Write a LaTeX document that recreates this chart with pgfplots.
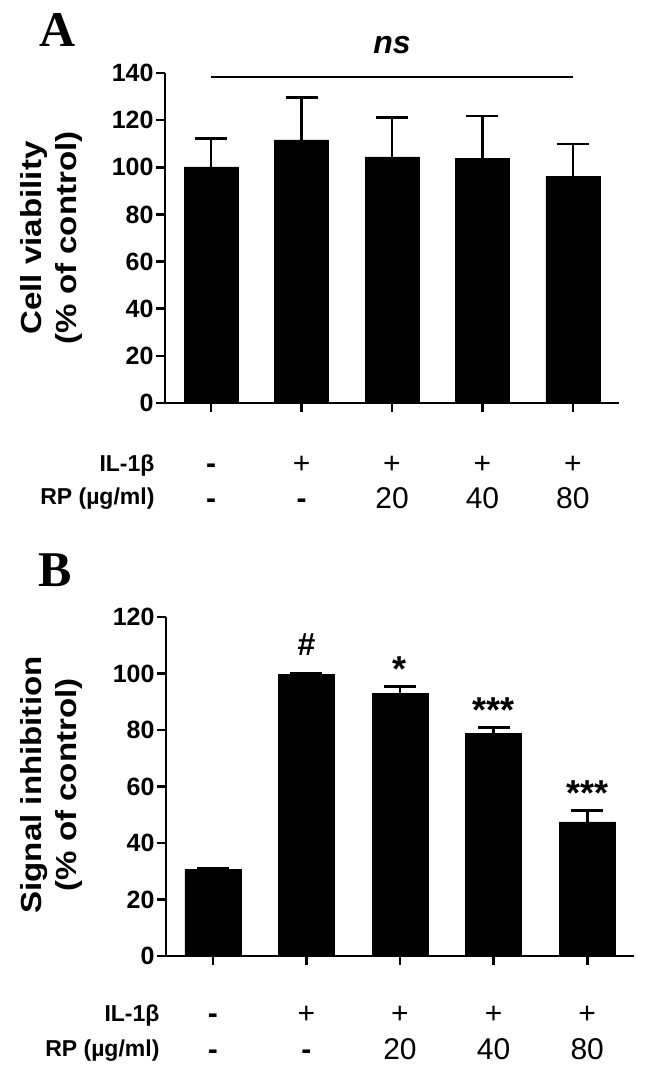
\documentclass[border=0pt]{standalone}
\usepackage{fontspec}
\setmainfont{Liberation Sans}
\newfontfamily\panelfont{Liberation Serif}
\usepackage{graphicx}
\usepackage{pgfplots}
\pgfplotsset{compat=1.18}

% cell viability (A) and signal inhibition (B): mean, upper error
\pgfplotstableread{
x y err
0 100.2 12.1
1 111.6 18.1
2 104.4 16.8
3 103.7 18.1
4 96.2 13.6
}\dataA
\pgfplotstableread{
x y err
0 30.6 0.5
1 99.8 0.4
2 92.9 2.4
3 78.7 2.2
4 47.5 3.9
}\dataB

\newcommand{\rowfont}{\fontsize{23}{26}\selectfont\bfseries}
\newcommand{\symfont}{\fontsize{30}{32}\selectfont}
\newcommand{\ylabfont}{\fontsize{29}{35}\selectfont\bfseries}
\newcommand{\starfont}{\fontsize{36}{36}\selectfont\bfseries}
\newcommand{\letterfont}{\fontsize{50}{52}\selectfont\panelfont\bfseries}

\pgfplotsset{
  panel/.style={
    scale only axis,
    ybar,
    axis lines*=left,
    axis line style={line width=2.6pt},
    tick align=outside,
    major tick length=9pt,
    tick style={line width=2.6pt, black},
    xtick={0,1,2,3,4},
    xticklabels={,,,,},
    ytick distance=20,
    ymin=0,
    /pgf/number format/assume math mode=true,
    yticklabel style={font=\fontsize{25}{28}\selectfont\bfseries, xshift=1pt},
    clip=false,
  },
  bars/.style={
    fill=black, draw=black,
    error bars/.cd, y dir=plus, y explicit,
    error bar style={line width=2.6pt, black},
    error mark options={rotate=90, line width=2.6pt, mark size=16pt, black},
  },
}

\begin{document}
\begin{tikzpicture}
\useasboundingbox (0pt,0pt) rectangle (646pt,1081pt);

% ---------------- panel A
\node[font=\letterfont, anchor=base] at (58pt,1034pt) {A};
\begin{axis}[panel,
  at={(165pt,678pt)}, anchor=south west,
  width=454pt, height=330pt,
  xmin=-0.51, xmax=4.51, ymax=140,
  bar width=54pt,
]
\addplot[bars] table[x=x, y=y, y error=err] {\dataA};
\draw[line width=1.4pt] (axis cs:0,138.3) -- (axis cs:4,138.3);
\node[font=\fontsize{32}{34}\selectfont\bfseries\itshape] at (axis cs:2,152) {ns};
% treatment rows
\node[font=\rowfont, anchor=base east] at (axis cs:-0.51,0) [yshift=-69pt, xshift=-7pt] {IL-1β};
\node[font=\rowfont, anchor=base east] at (axis cs:-0.51,0) [yshift=-102pt, xshift=-7pt] {RP (µg/ml)};
\node[font=\symfont\bfseries, anchor=base] at (axis cs:0,0) [yshift=-71pt] {-};
\node[font=\symfont, anchor=base] at (axis cs:1,0) [yshift=-71pt] {+};
\node[font=\symfont, anchor=base] at (axis cs:2,0) [yshift=-71pt] {+};
\node[font=\symfont, anchor=base] at (axis cs:3,0) [yshift=-71pt] {+};
\node[font=\symfont, anchor=base] at (axis cs:4,0) [yshift=-71pt] {+};
\node[font=\symfont\bfseries, anchor=base] at (axis cs:0,0) [yshift=-106pt] {-};
\node[font=\symfont\bfseries, anchor=base] at (axis cs:1,0) [yshift=-106pt] {-};
\node[font=\symfont, anchor=base] at (axis cs:2,0) [yshift=-106pt] {20};
\node[font=\symfont, anchor=base] at (axis cs:3,0) [yshift=-106pt] {40};
\node[font=\symfont, anchor=base] at (axis cs:4,0) [yshift=-106pt] {80};
\end{axis}
\node[font=\ylabfont, align=center, rotate=90] at (52pt,843pt)
  {\scalebox{1.14}[1]{Cell viability}\\\scalebox{1.14}[1]{(\% of control)}};

% ---------------- panel B
\node[font=\letterfont, anchor=base] at (55pt,494pt) {B};
\begin{axis}[panel,
  at={(166pt,125pt)}, anchor=south west,
  width=468pt, height=339pt,
  xmin=-0.5, xmax=4.5, ymax=120,
  bar width=56pt,
]
\addplot[bars] table[x=x, y=y, y error=err] {\dataB};
\node[font=\fontsize{32}{32}\selectfont\bfseries] at (axis cs:1,110.4) {\#};
\node[font=\starfont, anchor=base] at (axis cs:2,97.2) {*};
\node[font=\starfont, anchor=base] at (axis cs:3,82.6) {***};
\node[font=\starfont, anchor=base] at (axis cs:4,53.3) {***};
% treatment rows
\node[font=\rowfont, anchor=base east] at (axis cs:-0.5,0) [yshift=-65pt, xshift=-3pt] {IL-1β};
\node[font=\rowfont, anchor=base east] at (axis cs:-0.5,0) [yshift=-100pt, xshift=-3pt] {RP (µg/ml)};
\node[font=\symfont\bfseries, anchor=base] at (axis cs:0,0) [yshift=-67pt] {-};
\node[font=\symfont, anchor=base] at (axis cs:1,0) [yshift=-67pt] {+};
\node[font=\symfont, anchor=base] at (axis cs:2,0) [yshift=-67pt] {+};
\node[font=\symfont, anchor=base] at (axis cs:3,0) [yshift=-67pt] {+};
\node[font=\symfont, anchor=base] at (axis cs:4,0) [yshift=-67pt] {+};
\node[font=\symfont\bfseries, anchor=base] at (axis cs:0,0) [yshift=-103pt] {-};
\node[font=\symfont\bfseries, anchor=base] at (axis cs:1,0) [yshift=-103pt] {-};
\node[font=\symfont, anchor=base] at (axis cs:2,0) [yshift=-103pt] {20};
\node[font=\symfont, anchor=base] at (axis cs:3,0) [yshift=-103pt] {40};
\node[font=\symfont, anchor=base] at (axis cs:4,0) [yshift=-103pt] {80};
\end{axis}
\node[font=\ylabfont, align=center, rotate=90] at (52pt,296pt)
  {\scalebox{1.14}[1]{Signal inhibition}\\\scalebox{1.14}[1]{(\% of control)}};
\end{tikzpicture}
\end{document}
